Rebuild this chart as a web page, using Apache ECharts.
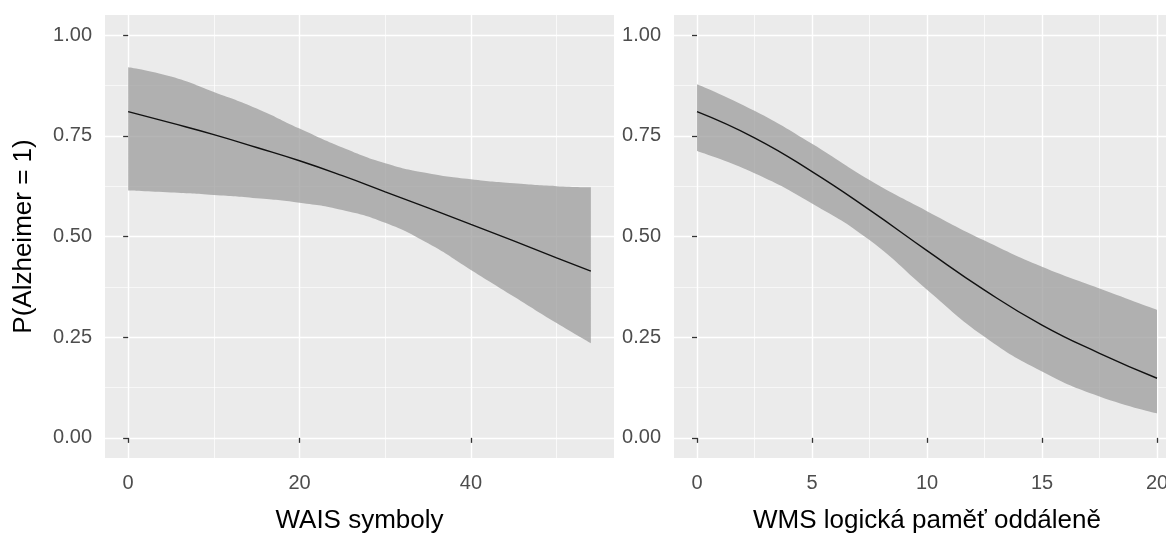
<!DOCTYPE html>
<html>
<head>
<meta charset="utf-8">
<script src="https://cdn.jsdelivr.net/npm/echarts@6/dist/echarts.min.js"></script>
<style>
  html, body { margin: 0; padding: 0; background: #fff; overflow: hidden; }
  #main { width: 1166px; height: 535px; }
</style>
</head>
<body>
<div id="main"></div>
<script>
// hodnoty
var wais = [0, 5, 10, 15, 20, 25, 30, 35, 40, 45, 50, 54];
var waisFit = [0.810, 0.782, 0.753, 0.721, 0.688, 0.651, 0.611, 0.571, 0.530, 0.489, 0.447, 0.414];
var waisHi = [0.920, 0.897, 0.859, 0.818, 0.768, 0.721, 0.682, 0.657, 0.642, 0.632, 0.625, 0.622];
var waisLo = [0.614, 0.609, 0.603, 0.595, 0.584, 0.566, 0.534, 0.483, 0.417, 0.351, 0.285, 0.235];

var wms = [0, 2.5, 5, 7.5, 10, 12.5, 15, 17.5, 20];
var wmsFit = [0.810, 0.745, 0.661, 0.566, 0.465, 0.367, 0.280, 0.210, 0.148];
var wmsHi = [0.878, 0.812, 0.730, 0.640, 0.563, 0.490, 0.425, 0.371, 0.318];
var wmsLo = [0.712, 0.657, 0.582, 0.491, 0.368, 0.251, 0.165, 0.103, 0.061];

var yTicks = [0, 0.25, 0.5, 0.75, 1];
var yMinor = [0.125, 0.375, 0.625, 0.875];
var waisTicks = [0, 20, 40];
var waisMinor = [10, 30, 50];
var wmsTicks = [0, 5, 10, 15, 20];
var wmsMinor = [2.5, 7.5, 12.5, 17.5];

var FONT = '"Liberation Sans", Arial, sans-serif';

// y first, x second -> stack goes on y (see encode below)
function pairs(xs, ys) {
    return xs.map(function (x, i) { return [ys[i], x]; });
}
function diff(xs, hi, lo) {
    return xs.map(function (x, i) { return [+(hi[i] - lo[i]).toFixed(4), x]; });
}

function mainX(grid, min, max, ticks, title) {
    return {
        type: 'value', gridIndex: grid, min: min, max: max, position: 'bottom',
        name: title, nameLocation: 'middle', nameGap: 50,
        nameTextStyle: { color: '#000', fontSize: 26, fontFamily: FONT },
        axisLine: { show: false },
        axisTick: { show: true, length: 5, customValues: ticks, lineStyle: { color: '#333', width: 1.3 } },
        axisLabel: { customValues: ticks, margin: 15, color: '#4D4D4D', fontSize: 20, fontFamily: FONT },
        splitLine: { show: true, lineStyle: { color: '#fff', width: 1.4 } }
    };
}
function minorX(grid, min, max, ticks) {
    return {
        type: 'value', gridIndex: grid, min: min, max: max, position: 'top',
        axisLine: { show: false },
        axisTick: { show: false, customValues: ticks },
        axisLabel: { show: false, customValues: ticks },
        splitLine: { show: true, lineStyle: { color: '#fff', width: 0.7 } }
    };
}
function mainY(grid, title) {
    return {
        type: 'value', gridIndex: grid, min: -0.05, max: 1.05, position: 'left',
        name: title, nameLocation: 'middle', nameGap: 68, nameRotate: 90,
        nameTextStyle: { color: '#000', fontSize: 26, fontFamily: FONT },
        axisLine: { show: false },
        axisTick: { show: true, length: 5, customValues: yTicks, lineStyle: { color: '#333', width: 1.3 } },
        axisLabel: {
            customValues: yTicks, margin: 13, color: '#4D4D4D', fontSize: 20, fontFamily: FONT,
            formatter: function (v) { return v.toFixed(2); }
        },
        splitLine: { show: true, lineStyle: { color: '#fff', width: 1.3 } }
    };
}
function minorY(grid) {
    return {
        type: 'value', gridIndex: grid, min: -0.05, max: 1.05, position: 'right',
        axisLine: { show: false },
        axisTick: { show: false, customValues: yMinor },
        axisLabel: { show: false, customValues: yMinor },
        splitLine: { show: true, lineStyle: { color: '#fff', width: 0.6 } }
    };
}

function panelSeries(grid, xs, fit, hi, lo) {
    var xi = grid * 2, yi = grid * 2;
    var enc = { x: 1, y: 0 };
    return [{
        type: 'line', xAxisIndex: xi, yAxisIndex: yi, stack: 'ci' + grid, encode: enc,
        data: pairs(xs, lo), smooth: 0.5, showSymbol: false, silent: true,
        lineStyle: { opacity: 0 }
    }, {
        type: 'line', xAxisIndex: xi, yAxisIndex: yi, stack: 'ci' + grid, encode: enc,
        data: diff(xs, hi, lo), smooth: 0.5, showSymbol: false, silent: true,
        lineStyle: { opacity: 0 },
        areaStyle: { color: 'rgba(153,153,153,0.72)', opacity: 1 }
    }, {
        type: 'line', xAxisIndex: xi, yAxisIndex: yi, encode: enc,
        data: pairs(xs, fit), smooth: 0.5, showSymbol: false, silent: true,
        lineStyle: { color: '#111', width: 1.4 }
    }];
}

var chart = echarts.init(document.getElementById('main'));
var option = {
    animation: false,
    grid: [
        { left: 105, top: 15, width: 509, height: 443, outerBoundsMode: 'none',
          show: true, backgroundColor: '#EBEBEB', borderWidth: 0 },
        { left: 674, top: 15, width: 506, height: 443, outerBoundsMode: 'none',
          show: true, backgroundColor: '#EBEBEB', borderWidth: 0 }
    ],
    xAxis: [
        mainX(0, -2.7, 56.7, waisTicks, 'WAIS symboly'),
        minorX(0, -2.7, 56.7, waisMinor),
        mainX(1, -1, 21, wmsTicks, 'WMS logická paměť oddáleně'),
        minorX(1, -1, 21, wmsMinor)
    ],
    yAxis: [
        mainY(0, 'P(Alzheimer = 1)'),
        minorY(0),
        mainY(1, ''),
        minorY(1)
    ],
    series: panelSeries(0, wais, waisFit, waisHi, waisLo)
        .concat(panelSeries(1, wms, wmsFit, wmsHi, wmsLo))
};
chart.setOption(option);
</script>
</body>
</html>
